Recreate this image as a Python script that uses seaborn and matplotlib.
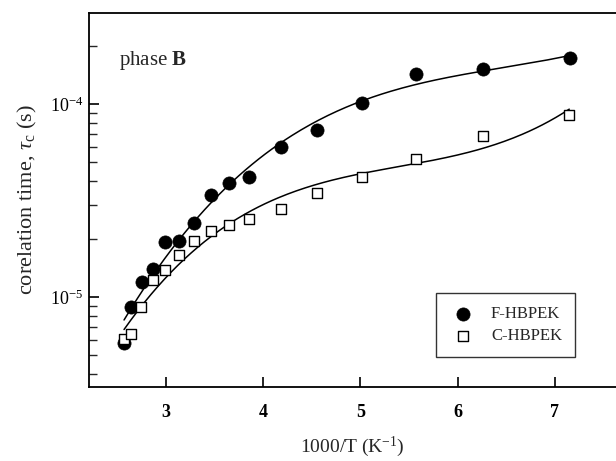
import matplotlib
matplotlib.use("Agg")
import matplotlib.pyplot as plt
import numpy as np
import pandas as pd
import seaborn as sns
from matplotlib.ticker import FixedLocator, NullFormatter

# Data
x_f = [2.573, 2.645, 2.754, 2.867, 2.994, 3.141, 3.289, 3.463, 3.654, 3.860,
       4.182, 4.558, 5.017, 5.572, 6.264, 7.154]
tau_f = [5.75e-6, 8.9e-6, 1.19e-5, 1.40e-5, 1.92e-5, 1.94e-5, 2.41e-5, 3.37e-5,
         3.88e-5, 4.2e-5, 5.97e-5, 7.33e-5, 1.007e-4, 1.43e-4, 1.52e-4, 1.73e-4]

x_c = [2.573, 2.645, 2.747, 2.867, 2.994, 3.141, 3.289, 3.463, 3.651, 3.857,
       4.182, 4.558, 5.017, 5.572, 6.264, 7.147]
tau_c = [6.04e-6, 6.41e-6, 8.9e-6, 1.22e-5, 1.38e-5, 1.66e-5, 1.96e-5, 2.21e-5,
         2.36e-5, 2.54e-5, 2.86e-5, 3.44e-5, 4.2e-5, 5.19e-5, 6.82e-5, 8.77e-5]

labels = ["F-HBPEK", "C-HBPEK"]
x_ticks = [3, 4, 5, 6, 7]

sns.set_theme(style="ticks")
plt.rcParams["font.family"] = ["Liberation Serif", "DejaVu Serif"]
plt.rcParams["mathtext.fontset"] = "custom"
plt.rcParams["mathtext.rm"] = "Liberation Serif"
plt.rcParams["mathtext.it"] = "Liberation Serif:italic"
plt.rcParams["mathtext.bf"] = "Liberation Serif:bold"

fig = plt.figure(figsize=(6.16, 4.61), dpi=100)
ax = fig.add_axes([89 / 616, 1 - 387 / 461, 1 - 89 / 616, (387 - 12.7) / 461])


# cubic fit of log10(tau) vs 1000/T for the smooth curves
def fit_curve(x, y):
    p = np.polyfit(x, np.log10(y), 3)
    xs = np.linspace(min(x), max(x), 200)
    return pd.DataFrame({"x": xs, "y": 10 ** np.polyval(p, xs)})


for xv, yv in [(x_f, tau_f), (x_c, tau_c)]:
    d = fit_curve(xv, yv)
    sns.lineplot(data=d, x="x", y="y", ax=ax, color="black", lw=1.1, legend=False)

sns.scatterplot(x=x_f, y=tau_f, ax=ax, marker="o", s=90, color="black",
                edgecolor="black", linewidth=0.5, label=labels[0], zorder=3)
sns.scatterplot(x=x_c, y=tau_c, ax=ax, marker="s", s=55, facecolor="white",
                edgecolor="black", linewidth=1.0, label=labels[1], zorder=3)

ax.set_yscale("log")
ax.set_xlim(2.213, 7.627)
ax.set_ylim(3.42e-6, 2.97e-4)

ax.xaxis.set_major_locator(FixedLocator(x_ticks))
ax.set_xticklabels([str(t) for t in x_ticks], fontweight="bold")
ax.yaxis.set_major_locator(FixedLocator([1e-5, 1e-4]))
ax.set_yticklabels([r"$10^{-5}$", r"$10^{-4}$"])
minor = [m * 10.0 ** e for e in (-6, -5, -4) for m in range(2, 10)]
ax.yaxis.set_minor_locator(FixedLocator(minor))
ax.yaxis.set_minor_formatter(NullFormatter())

ax.tick_params(axis="both", which="major", direction="in", length=7, width=1.2,
               labelsize=13, colors="black")
ax.tick_params(axis="y", which="minor", direction="in", length=5.5, width=1.0,
               left=True)
ax.tick_params(axis="x", which="major", pad=12)
ax.tick_params(axis="y", which="major", pad=4)
ax.tick_params(top=False, right=False, which="both")

for s in ["left", "bottom", "top"]:
    ax.spines[s].set_linewidth(1.3)
    ax.spines[s].set_color("black")
ax.spines["right"].set_visible(False)

ax.set_xlabel(r"1000/T (K$^{-1}$)", fontsize=14, labelpad=10)
ax.set_ylabel(r"corelation time, $\tau_{\rm c}$ (s)", fontsize=16, labelpad=8)

ax.text(0.057, 0.872, r"phase $\mathbf{B}$", transform=ax.transAxes, fontsize=15,
        va="center", ha="left")

leg = ax.legend(loc="upper left",
                bbox_to_anchor=((436 - 89) / 527, 1 - (293 - 12.7) / 374.3),
                frameon=True, fancybox=False, edgecolor="black", fontsize=12,
                borderpad=0.8, handletextpad=0.9, handlelength=1.6,
                labelspacing=0.35, borderaxespad=0)
leg.get_frame().set_linewidth(1.0)

fig.savefig("out.png", dpi=100)
